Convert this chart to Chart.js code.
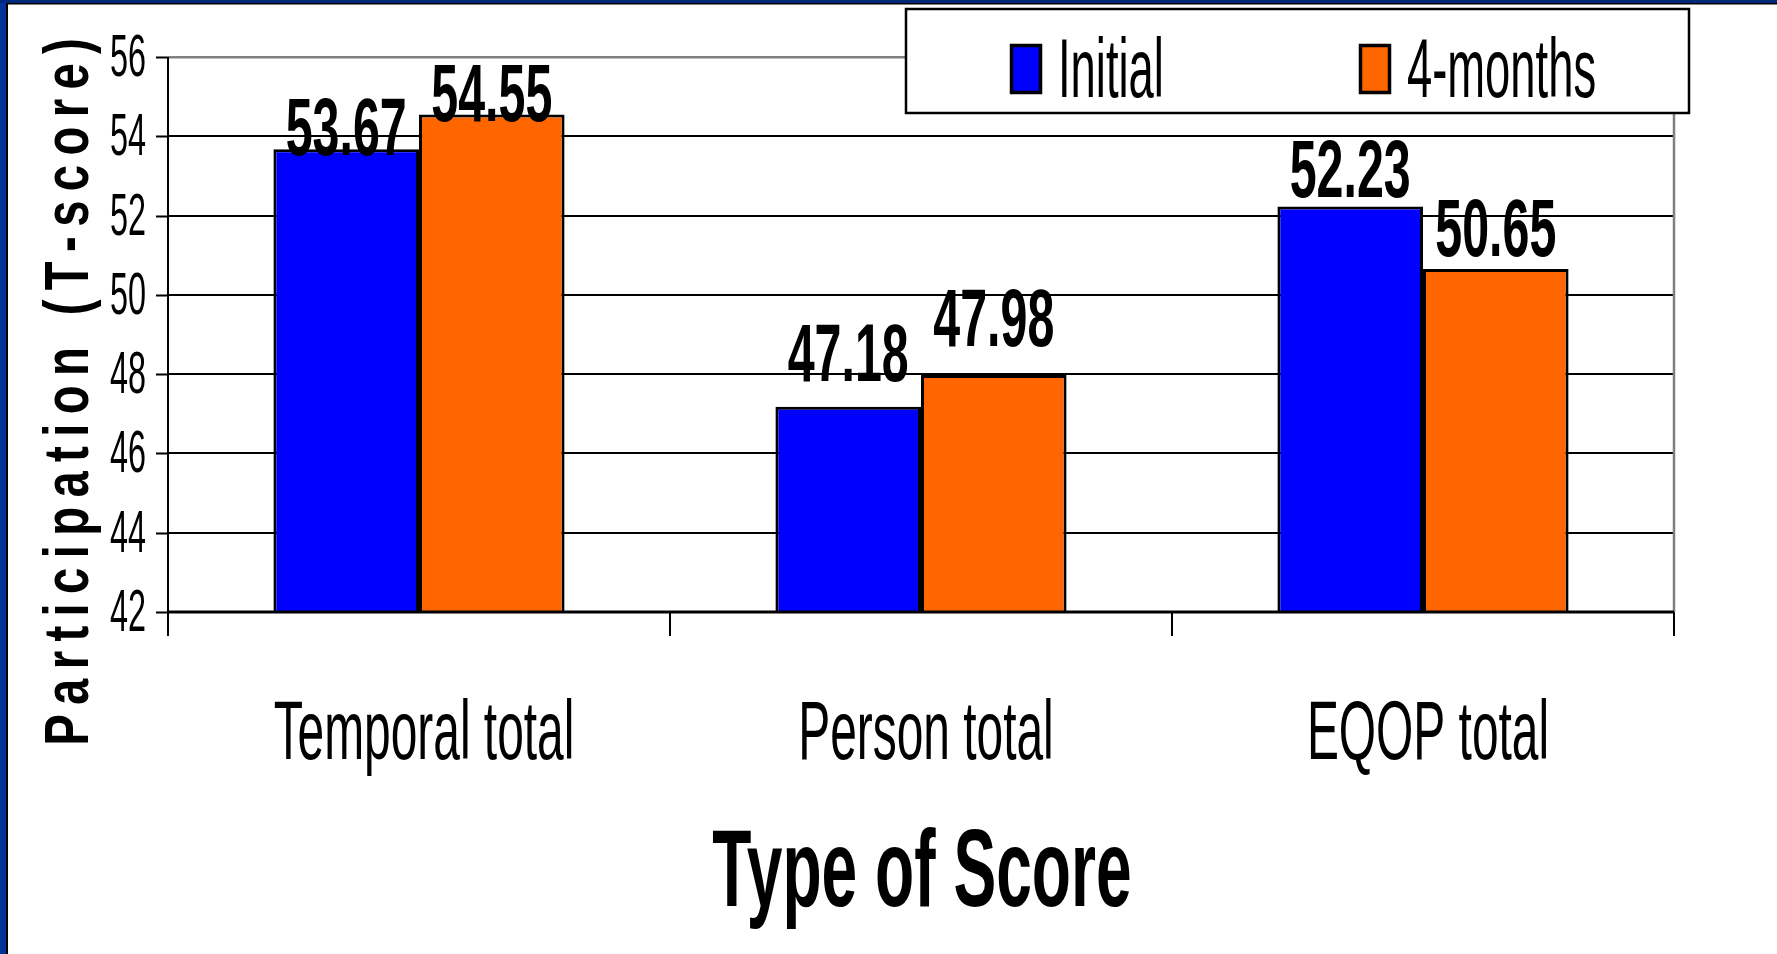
<!DOCTYPE html>
<html>
<head>
<meta charset="utf-8">
<title>Participation T-scores by type of score</title>
<script src="https://cdn.jsdelivr.net/npm/chart.js@4/dist/chart.umd.min.js"></script>
<style>
  html, body { margin: 0; padding: 0; background: #ffffff; }
  #wrap { position: relative; width: 1777px; height: 954px; }
</style>
</head>
<body>
<div id="wrap"><canvas id="chart"></canvas></div>
<script>
// Data
const categories = ['Temporal total', 'Person total', 'EQOP total'];
const seriesNames = ['Initial', '4-months'];
const initialScores = [53.67, 47.18, 52.23];
const fourMonthScores = [54.55, 47.98, 50.65];
const yTickValues = [42, 44, 46, 48, 50, 52, 54, 56];
const xAxisTitle = 'Type of Score';
const yAxisTitle = 'Participation (T-score)';

// Styles
const seriesColors = ['#0000FF', '#FF6600'];
const FONT = '"Liberation Sans", Arial, sans-serif';
// how far each value label is lifted above its bar (px), per series
const labelLift = [[-3, 29, 12], [-4, 32, 16]];

// Draws condensed (horizontally squeezed) text
function condensedText(ctx, text, x, y, size, bold, sx, align) {
  ctx.save();
  ctx.translate(x, y);
  ctx.scale(sx, 1);
  ctx.font = (bold ? 'bold ' : '') + size + 'px ' + FONT;
  ctx.fillStyle = '#000000';
  ctx.textAlign = align || 'center';
  ctx.textBaseline = 'alphabetic';
  ctx.fillText(text, 0, 0);
  ctx.restore();
}

const decorPlugin = {
  id: 'decor',
  beforeDraw(chart) {
    const ctx = chart.ctx;
    const W = chart.width, H = chart.height;
    ctx.save();
    ctx.fillStyle = '#ffffff';
    ctx.fillRect(0, 0, W, H);
    // slide frame
    ctx.fillStyle = '#003399';
    ctx.fillRect(0, 0, 6, H);
    ctx.fillStyle = '#00287a';
    ctx.fillRect(0, 0, W, 3);
    ctx.fillStyle = '#000000';
    ctx.fillRect(6, 3, 2, H - 3);
    ctx.fillRect(6, 3, W - 6, 1.5);
    ctx.restore();
  },
  afterDatasetsDraw(chart) {
    const ctx = chart.ctx;
    const area = chart.chartArea;
    const x = chart.scales.x;
    const y = chart.scales.y;

    ctx.save();
    // plot border on the right
    ctx.strokeStyle = '#808080';
    ctx.lineWidth = 2.5;
    ctx.beginPath();
    ctx.moveTo(area.right, area.top);
    ctx.lineTo(area.right, area.bottom);
    ctx.stroke();

    // axis lines and tick marks
    ctx.strokeStyle = '#000000';
    ctx.lineWidth = 2;
    ctx.beginPath();
    ctx.moveTo(area.left, area.top);
    ctx.lineTo(area.left, area.bottom + 24);
    yTickValues.forEach(v => {
      const py = Math.round(y.getPixelForValue(v)) + 0.5;
      ctx.moveTo(area.left - 12, py);
      ctx.lineTo(area.left, py);
    });
    for (let i = 0; i <= categories.length; i++) {
      const px = x.getPixelForValue(i - 0.5);
      ctx.moveTo(px, area.bottom);
      ctx.lineTo(px, area.bottom + 24);
    }
    ctx.stroke();
    ctx.lineWidth = 3;
    ctx.beginPath();
    ctx.moveTo(area.left, area.bottom);
    ctx.lineTo(area.right, area.bottom);
    ctx.stroke();
    ctx.restore();

    // value labels on top of the bars
    chart.data.datasets.forEach((ds, di) => {
      const meta = chart.getDatasetMeta(di);
      meta.data.forEach((bar, i) => {
        condensedText(ctx, ds.data[i].toFixed(2), bar.x, bar.y + 3 - labelLift[di][i], 82, true, 0.59, 'center');
      });
    });

    // y tick labels
    yTickValues.forEach(v => {
      condensedText(ctx, String(v), area.left - 22, y.getPixelForValue(v) + 19, 60, false, 0.54, 'right');
    });

    // category labels
    categories.forEach((c, i) => {
      condensedText(ctx, c, x.getPixelForValue(i) + 5, 759, 84, false, 0.57, 'center');
    });

    // x axis title
    condensedText(ctx, xAxisTitle, (area.left + area.right) / 2 + 1, 906, 110, true, 0.583, 'center');

    // y axis title, rotated and letter-spaced
    ctx.save();
    ctx.translate(88, 392);
    ctx.rotate(-Math.PI / 2);
    ctx.scale(0.75, 1);
    ctx.font = 'bold 63px ' + FONT;
    ctx.fillStyle = '#000000';
    ctx.textAlign = 'left';
    ctx.textBaseline = 'alphabetic';
    const spacing = 12.5;
    const chars = Array.from(yAxisTitle);
    const widths = chars.map(ch => ctx.measureText(ch).width);
    const total = widths.reduce((a, b) => a + b, 0) + spacing * (chars.length - 1);
    let cx = -total / 2;
    chars.forEach((ch, k) => {
      ctx.fillText(ch, cx, 0);
      cx += widths[k] + spacing;
    });
    ctx.restore();

    // legend box
    ctx.save();
    ctx.fillStyle = '#ffffff';
    ctx.fillRect(906, 9, 783, 104);
    ctx.strokeStyle = '#000000';
    ctx.lineWidth = 2.5;
    ctx.strokeRect(906, 9, 783, 104);
    const swatchX = [1010, 1359];
    chart.data.datasets.forEach((ds, di) => {
      ctx.fillStyle = ds.backgroundColor;
      ctx.fillRect(swatchX[di], 44, 32, 50);
      ctx.lineWidth = 3.5;
      ctx.strokeStyle = '#000000';
      ctx.strokeRect(swatchX[di] + 1.5, 45.5, 29, 47);
      condensedText(ctx, ds.label, swatchX[di] + 48, 97, 84, false, 0.54, 'left');
    });
    ctx.restore();
  }
};

const chart = new Chart(document.getElementById('chart'), {
  type: 'bar',
  data: {
    labels: categories,
    datasets: [
      { label: seriesNames[0], data: initialScores, backgroundColor: seriesColors[0] },
      { label: seriesNames[1], data: fourMonthScores, backgroundColor: seriesColors[1] }
    ]
  },
  options: {
    responsive: true,
    maintainAspectRatio: false,
    devicePixelRatio: 1,
    animation: false,
    layout: { padding: { left: 168, top: 57, right: 103, bottom: 342 } },
    datasets: {
      bar: {
        categoryPercentage: 0.58,
        barPercentage: 1.0,
        borderColor: '#000000',
        borderWidth: 3,
        borderSkipped: false
      }
    },
    plugins: {
      legend: { display: false },
      title: { display: false },
      tooltip: { enabled: false }
    },
    scales: {
      x: {
        grid: { display: false, drawTicks: false },
        ticks: { display: false },
        border: { display: false }
      },
      y: {
        min: 42,
        max: 56,
        afterBuildTicks: (scale) => { scale.ticks = yTickValues.map(v => ({ value: v })); },
        ticks: { display: false },
        grid: {
          drawTicks: false,
          color: (c) => c.tick && c.tick.value === 56 ? '#808080' : (c.tick && c.tick.value === 42 ? 'rgba(0,0,0,0)' : '#000000'),
          lineWidth: (c) => c.tick && c.tick.value === 56 ? 2.5 : 2
        },
        border: { display: false }
      }
    }
  },
  plugins: [decorPlugin]
});
</script>
</body>
</html>
